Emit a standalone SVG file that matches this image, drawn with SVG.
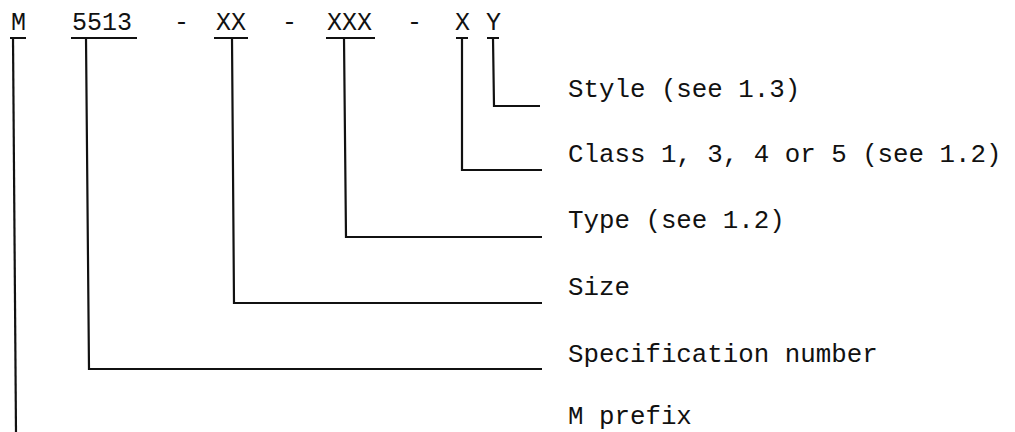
<svg xmlns="http://www.w3.org/2000/svg" width="1015" height="432" viewBox="0 0 1015 432">
<style>
.t{font-family:"Liberation Mono","Courier New",monospace;font-size:25px;fill:#111}
.l{font-family:"Liberation Mono","Courier New",monospace;font-size:25.8px;fill:#111}
.u{stroke:#111;stroke-width:2;fill:none;stroke-linecap:square}
.c{stroke:#111;stroke-width:2.2;fill:none;stroke-linejoin:miter}
</style>
<rect width="1015" height="432" fill="#fff"/>
<g id="code">
  <g id="tok-m"><text class="t" x="11" y="30">M</text><line class="u" x1="11" y1="38" x2="25" y2="38"/></g>
  <g id="tok-5513"><text class="t" x="72" y="30">5513</text><line class="u" x1="72" y1="38" x2="136" y2="38"/></g>
  <text class="t" x="174" y="30">-</text>
  <g id="tok-xx"><text class="t" x="216" y="30">XX</text><line class="u" x1="215" y1="38" x2="247" y2="38"/></g>
  <text class="t" x="282" y="30">-</text>
  <g id="tok-xxx"><text class="t" x="327" y="30">XXX</text><line class="u" x1="327" y1="38" x2="374" y2="38"/></g>
  <text class="t" x="407" y="30">-</text>
  <g id="tok-x"><text class="t" x="455" y="30">X</text><line class="u" x1="457" y1="38" x2="467" y2="38"/></g>
  <g id="tok-y"><text class="t" x="486" y="30">Y</text><line class="u" x1="488" y1="38" x2="498" y2="38"/></g>
</g>
<g id="labels">
  <g id="lbl-style"><text class="l" x="568" y="97">Style (see 1.3)</text></g>
  <g id="lbl-class"><text class="l" x="568" y="162">Class 1, 3, 4 or 5 (see 1.2)</text></g>
  <g id="lbl-type"><text class="l" x="568" y="228">Type (see 1.2)</text></g>
  <g id="lbl-size"><text class="l" x="568" y="295">Size</text></g>
  <g id="lbl-spec"><text class="l" x="568" y="362">Specification number</text></g>
  <g id="lbl-m"><text class="l" x="568" y="424">M prefix</text></g>
</g>
<g id="connectors">
  <polyline class="c" points="13,38 16,432"/>
  <polyline class="c" points="86,38 89,369 542,369"/>
  <polyline class="c" points="232,38 234,303 542,303"/>
  <polyline class="c" points="344,38 346,237 542,237"/>
  <polyline class="c" stroke-width="2.6" points="462,38 462,170 542,170"/>
  <polyline class="c" stroke-width="3.6" points="493,38 494,106 540,106"/>
</g>
</svg>
